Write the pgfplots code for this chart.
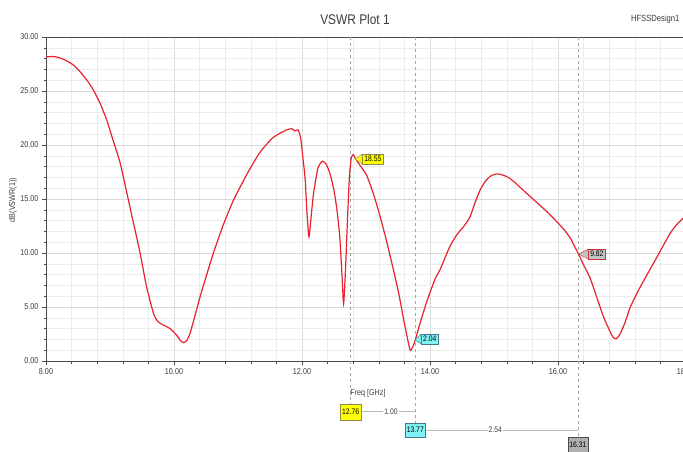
\documentclass[border=0pt]{standalone}
\usepackage{fontspec}
\setmainfont{Liberation Sans}
\newfontfamily\narrowfont[FakeStretch=0.85]{Liberation Sans}
\usepackage{pgfplots}
\pgfplotsset{compat=1.18}
\definecolor{curve}{HTML}{E8222C}
\definecolor{txt}{HTML}{3C3C3C}
\definecolor{ybox}{HTML}{FFFF00}
\definecolor{cbox}{HTML}{7FF3F3}
\definecolor{gbox}{HTML}{C4C4C4}
\definecolor{gbox2}{HTML}{B0B0B0}
\begin{document}
\begin{tikzpicture}[x=1pt,y=1pt]
\useasboundingbox (0,0) rectangle (683,451);
\node[font=\narrowfont\fontsize{14}{16}\selectfont, text=txt] at (355,432) {VSWR Plot 1};
\node[font=\narrowfont\fontsize{9}{10}\selectfont, text=txt, anchor=east] at (683,432) {HFSSDesign1};
\begin{axis}[
  at={(46pt,90pt)}, anchor=south west,
  scale only axis, width=640pt, height=324pt,
  xmin=8, xmax=18, ymin=0, ymax=30,
  clip=false,
  xtick={8,10,12,14,16,18},
  ytick={0,5,10,15,20,25,30},
  minor x tick num=4, minor y tick num=4,
  grid=both,
  major grid style={gray!30, line width=0.5pt},
  minor grid style={gray!15, line width=0.4pt},
  axis line style={gray!60!black, line width=0.6pt},
  axis x line*=bottom, axis y line*=left,
  tick align=outside,
  major tick length=4pt, minor tick length=2.5pt,
  tick style={gray!60!black, line width=0.5pt},
  ticklabel style={font=\narrowfont\fontsize{8.5}{9}\selectfont, text=txt},
  /pgf/number format/.cd, fixed, fixed zerofill, precision=2, assume math mode=true,
]
% top border
\draw[gray!60!black, line width=0.6pt] (axis cs:8,30) -- (axis cs:18,30);
% marker dashed lines
\draw[gray!70, dashed, line width=0.5pt] (axis cs:12.76,30) -- (axis cs:12.76,-4.2);
\draw[gray!70, dashed, line width=0.5pt] (axis cs:13.77,30) -- (axis cs:13.77,-5.9);
\draw[gray!70, dashed, line width=0.5pt] (axis cs:16.31,30) -- (axis cs:16.31,-7.1);
\addplot[curve, line width=1.2pt, smooth, tension=0.35] coordinates {
(8.00,28.15) (8.10,28.2) (8.20,28.1) (8.32,27.8) (8.43,27.4) (8.53,26.8)
(8.64,26.0) (8.74,25.1) (8.85,23.8) (8.95,22.3) (9.05,20.4) (9.16,18.3)
(9.31,14.3) (9.47,10.0) (9.57,6.9) (9.68,4.4) (9.73,3.8) (9.78,3.5)
(9.86,3.25) (9.94,3.0) (10.04,2.4) (10.10,1.9) (10.15,1.7) (10.20,1.9)
(10.25,2.55) (10.30,3.6) (10.41,6.0) (10.46,7.0) (10.61,9.9) (10.77,12.6)
(10.93,14.9) (11.14,17.3) (11.34,19.3) (11.55,20.7) (11.76,21.4) (11.84,21.5)
(11.89,21.3) (11.94,21.4) (11.98,20.6) (12.02,18.5) (12.05,16.8) (12.08,13.5)
(12.11,11.5) (12.14,13.2) (12.18,15.5) (12.25,17.9) (12.32,18.5) (12.38,18.2)
(12.44,17.3) (12.50,15.8) (12.55,13.8) (12.59,11.5) (12.62,8.5) (12.65,5.3)
(12.68,8.5) (12.71,13.0) (12.74,17.0) (12.77,18.8) (12.80,19.1) (12.85,18.6)
(12.92,18.0) (13.01,17.2) (13.12,15.4) (13.22,13.4) (13.33,10.9) (13.43,8.4)
(13.51,6.3) (13.58,4.1) (13.64,2.3) (13.69,1.0) (13.73,1.3) (13.77,1.95)
(13.85,3.6) (13.95,5.5) (14.08,7.6) (14.16,8.5) (14.31,10.6) (14.42,11.7)
(14.52,12.4) (14.58,12.9) (14.63,13.4) (14.70,14.6) (14.78,15.8) (14.86,16.6)
(14.94,17.1) (15.02,17.3) (15.09,17.3) (15.17,17.15) (15.25,16.9) (15.35,16.4)
(15.46,15.8) (15.59,15.1) (15.72,14.4) (15.85,13.7) (15.98,12.9) (16.09,12.2)
(16.19,11.4) (16.26,10.6) (16.32,9.9) (16.40,8.9) (16.50,7.7) (16.60,6.0)
(16.71,4.1) (16.80,2.9) (16.86,2.2) (16.91,2.05) (16.97,2.5) (17.05,3.6)
(17.13,5.0) (17.28,6.8) (17.44,8.5) (17.60,10.2) (17.75,11.8) (17.85,12.6)
(17.95,13.2) (18.00,13.5)
};
% tags on curve
\node[fill=ybox, draw=yellow!50!black, line width=0.4pt, inner sep=2pt, anchor=west,
  font=\narrowfont\fontsize{8}{9}\selectfont] (t1) at (axis cs:12.94,18.7) {18.55};
\filldraw[fill=ybox, draw=yellow!50!black, line width=0.4pt] (axis cs:12.83,18.7) -- ([yshift=-0.2pt]t1.north west) -- ([yshift=0.2pt]t1.south west) -- cycle;
\node[fill=cbox, draw=cyan!50!black, line width=0.4pt, inner sep=2pt, anchor=west,
  font=\narrowfont\fontsize{8}{9}\selectfont] (t2) at (axis cs:13.86,2.04) {2.04};
\filldraw[fill=cbox, draw=cyan!50!black, line width=0.4pt] (axis cs:13.76,1.94) -- ([yshift=-0.2pt]t2.north west) -- ([yshift=0.2pt]t2.south west) -- cycle;
\node[fill=gbox, draw=red!60!gray, line width=0.4pt, inner sep=2pt, anchor=west,
  font=\narrowfont\fontsize{8}{9}\selectfont] (t3) at (axis cs:16.47,9.9) {9.82};
\filldraw[fill=gbox, draw=red!60!gray, line width=0.4pt] (axis cs:16.32,9.9) -- ([yshift=-0.2pt]t3.north west) -- ([yshift=0.2pt]t3.south west) -- cycle;
% x label
\node[font=\narrowfont\fontsize{8.5}{9}\selectfont, text=txt] at (axis cs:13.03,-2.96) {Freq [GHz]};
% delta markers below
\draw[gray!55, line width=1pt] (axis cs:12.76,-4.72) -- (axis cs:13.77,-4.72);
\node[fill=white, inner sep=1pt, font=\narrowfont\fontsize{8}{9}\selectfont, text=txt] at (axis cs:13.39,-4.72) {1.00};
\node[fill=ybox, draw=yellow!50!black, line width=0.4pt, inner sep=1.6pt, minimum height=16pt,
  font=\narrowfont\fontsize{8}{9}\selectfont] at (axis cs:12.76,-4.72) {12.76};
\draw[gray!55, line width=1pt] (axis cs:13.77,-6.39) -- (axis cs:16.31,-6.39);
\node[fill=white, inner sep=1pt, font=\narrowfont\fontsize{8}{9}\selectfont, text=txt] at (axis cs:15.02,-6.39) {2.54};
\node[fill=cbox, draw=cyan!50!black, line width=0.4pt, inner sep=1.6pt, minimum height=14pt,
  font=\narrowfont\fontsize{8}{9}\selectfont] at (axis cs:13.77,-6.39) {13.77};
\node[fill=gbox2, draw=gray!60!black, line width=0.4pt, inner sep=1.6pt, minimum height=15pt,
  font=\narrowfont\fontsize{8}{9}\selectfont] at (axis cs:16.31,-7.75) {16.31};
\end{axis}
\node[rotate=90, font=\narrowfont\fontsize{8.5}{9}\selectfont, text=txt] at (13,251) {dB(VSWR(1))};
\end{tikzpicture}
\end{document}
